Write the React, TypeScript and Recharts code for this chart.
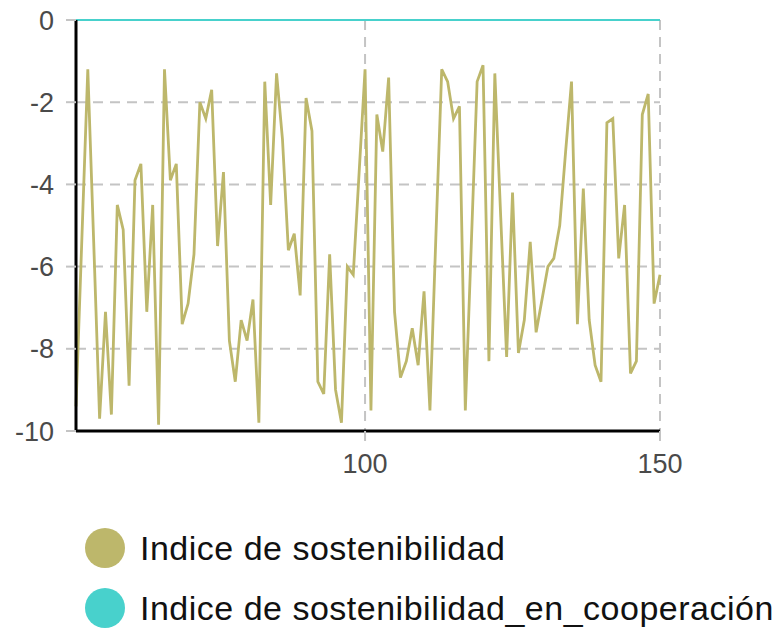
import React from "react";
import {
  LineChart,
  Line,
  XAxis,
  YAxis,
  CartesianGrid,
} from "recharts";

// x runs from 51 to 150, one point per step
const startX = 51;

const sostenibilidad = [
  -9.4, -5.3, -1.2, -5.4, -9.7, -7.1, -9.6, -4.5, -5.1, -8.9,
  -3.9, -3.5, -7.1, -4.5, -9.85, -1.2, -3.9, -3.5, -7.4, -6.9,
  -5.7, -2.0, -2.4, -1.7, -5.5, -3.7, -7.8, -8.8, -7.3, -7.8,
  -6.8, -9.8, -1.5, -4.5, -1.3, -2.9, -5.6, -5.2, -6.7, -1.9,
  -2.7, -8.8, -9.1, -5.7, -9.0, -9.8, -6.0, -6.2, -3.7, -1.2,
  -9.5, -2.3, -3.2, -1.4, -7.1, -8.7, -8.3, -7.5, -8.4, -6.6,
  -9.5, -5.3, -1.2, -1.5, -2.4, -2.1, -9.5, -5.5, -1.5, -1.1,
  -8.3, -1.3, -4.8, -8.2, -4.2, -8.1, -7.3, -5.4, -7.6, -6.8,
  -6.0, -5.8, -5.0, -3.2, -1.5, -7.4, -4.1, -7.3, -8.4, -8.8,
  -2.5, -2.4, -5.8, -4.5, -8.6, -8.3, -2.3, -1.8, -6.9, -6.2,
];

const cooperacion = sostenibilidad.map(() => 0);

const xTicks = [100, 150];
const yTicks = [-10, -8, -6, -4, -2, 0];

const seriesNames = [
  "Indice de sostenibilidad",
  "Indice de sostenibilidad_en_cooperación",
];
const seriesColors = ["#bdb76b", "#48d1cc"];

const data = sostenibilidad.map((v, i) => ({
  x: startX + i,
  sost: v,
  coop: cooperacion[i],
}));

const font = "'Liberation Sans', Arial, sans-serif";

export default function App() {
  return (
    <div
      style={{
        position: "absolute",
        left: 0,
        top: 0,
        width: 779,
        height: 631,
        background: "#fff",
        fontFamily: font,
        overflow: "hidden",
      }}
    >
      <LineChart
        width={779}
        height={500}
        data={data}
        margin={{ top: 20, right: 119, left: 0, bottom: 9 }}
      >
        <CartesianGrid
          stroke="#c4c4c4"
          strokeWidth={2}
          strokeDasharray="10 7"
        />
        <XAxis
          dataKey="x"
          type="number"
          domain={[51, 150]}
          ticks={xTicks}
          height={60}
          axisLine={{ stroke: "#000", strokeWidth: 3 }}
          tickLine={{ stroke: "#c4c4c4", strokeWidth: 2 }}
          tickSize={10}
          tickMargin={13}
          tick={{ fill: "#4a4a4a", fontSize: 27, fontFamily: font }}
        />
        <YAxis
          type="number"
          domain={[-10, 0]}
          ticks={yTicks}
          width={76}
          axisLine={{ stroke: "#000", strokeWidth: 3 }}
          tickLine={{ stroke: "#c4c4c4", strokeWidth: 2 }}
          tickSize={10}
          tickMargin={12}
          tick={{ fill: "#4a4a4a", fontSize: 27, fontFamily: font }}
        />
        <Line
          dataKey="sost"
          name={seriesNames[0]}
          stroke={seriesColors[0]}
          strokeWidth={2.8}
          dot={false}
          isAnimationActive={false}
        />
        <Line
          dataKey="coop"
          name={seriesNames[1]}
          stroke={seriesColors[1]}
          strokeWidth={2}
          dot={false}
          isAnimationActive={false}
        />
      </LineChart>
      <div style={{ position: "absolute", left: 85, top: 518 }}>
        {seriesNames.map((name, i) => (
          <div
            key={name}
            style={{
              display: "flex",
              alignItems: "center",
              height: 60,
              whiteSpace: "nowrap",
            }}
          >
            <span
              style={{
                width: 40,
                height: 40,
                borderRadius: "50%",
                background: seriesColors[i],
                display: "inline-block",
                marginRight: 15,
                flexShrink: 0,
              }}
            />
            <span
              style={{
                fontSize: 34,
                color: "#111",
                lineHeight: "40px",
                letterSpacing: 0.5,
              }}
            >
              {name}
            </span>
          </div>
        ))}
      </div>
    </div>
  );
}
